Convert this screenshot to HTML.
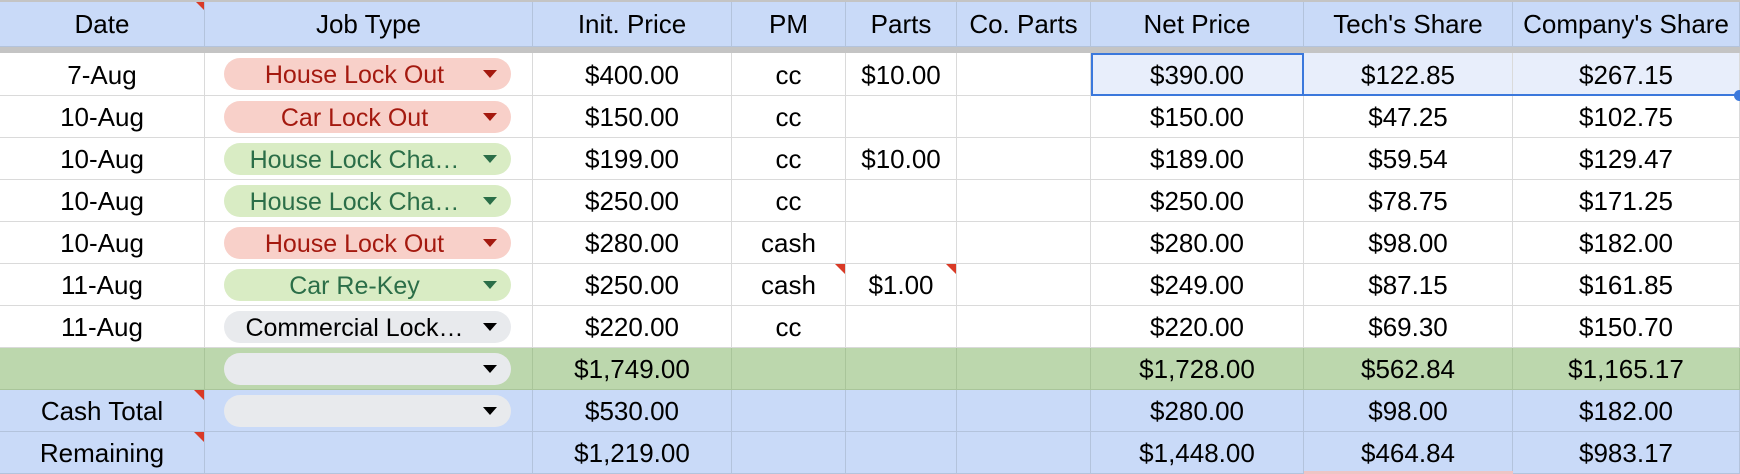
<!DOCTYPE html>
<html><head><meta charset="utf-8">
<style>
html,body{margin:0;padding:0;}
body{width:1740px;height:474px;overflow:hidden;background:#fff;position:relative;font-family:"Liberation Sans",Arial,sans-serif;}
.c{position:absolute;box-sizing:border-box;display:flex;align-items:center;justify-content:center;font-size:26px;color:#000;border-right:1px solid #dadada;border-bottom:1px solid #dadada;white-space:nowrap;padding-top:2px;}
.h{background:#c9daf8;border-right:1px solid #b3c3dc;border-bottom:1px solid #b3c3dc;}
.g{background:#bcd7ad;border-right:1px solid #a9c59a;border-bottom:1px solid #a9c59a;}
.b{background:#c9daf8;border-right:1px solid #b3c3dc;border-bottom:1px solid #b3c3dc;}
.chip{position:absolute;left:19px;right:21px;top:50%;transform:translateY(-50%);height:32px;border-radius:16px;display:flex;align-items:center;justify-content:center;padding-right:32px;padding-left:6px;padding-top:3px;box-sizing:border-box;font-size:25px;}
.chip .arr{position:absolute;right:14px;top:12px;width:0;height:0;border-left:7px solid transparent;border-right:7px solid transparent;border-top:8px solid #000;}
.red{background:#f8d0c9;color:#a4190f;}
.red .arr{border-top-color:#a4190f;}
.grn{background:#d9ecc4;color:#2b6e48;}
.grn .arr{border-top-color:#2b6e48;}
.gry{background:#e8eaed;color:#000;}
.tri{position:absolute;right:0;top:0;width:0;height:0;border-left:10px solid transparent;border-top:10px solid #d93a26;}
</style></head><body>
<div id="sheet"></div>
<script>
const colWidths=[205,328,199,114,111,134,213,209,227];
const headers=["Date","Job Type","Init. Price","PM","Parts","Co. Parts","Net Price","Tech's Share","Company's Share"];
const dates=["7-Aug","10-Aug","10-Aug","10-Aug","10-Aug","11-Aug","11-Aug"];
const jobTypes=["House Lock Out","Car Lock Out","House Lock Cha…","House Lock Cha…","House Lock Out","Car Re-Key","Commercial Lock…"];
const jobColors=["red","red","grn","grn","red","grn","gry"];
const initPrices=["$400.00","$150.00","$199.00","$250.00","$280.00","$250.00","$220.00"];
const pms=["cc","cc","cc","cc","cash","cash","cc"];
const parts=["$10.00","","$10.00","","","$1.00",""];
const netPrices=["$390.00","$150.00","$189.00","$250.00","$280.00","$249.00","$220.00"];
const techShares=["$122.85","$47.25","$59.54","$78.75","$98.00","$87.15","$69.30"];
const coShares=["$267.15","$102.75","$129.47","$171.25","$182.00","$161.85","$150.70"];
const totalRow=["","","$1,749.00","","","","$1,728.00","$562.84","$1,165.17"];
const cashRow=["Cash Total","","$530.00","","","","$280.00","$98.00","$182.00"];
const remRow=["Remaining","","$1,219.00","","","","$1,448.00","$464.84","$983.17"];
const rowHeights=[43,42,42,42,42,42,42,42,42,42];

const sheet=document.getElementById('sheet');
const xs=[0];colWidths.forEach(w=>xs.push(xs[xs.length-1]+w));
const ys=[53];rowHeights.forEach(h=>ys.push(ys[ys.length-1]+h));

function cell(ci,y,h,cls,text){
  const d=document.createElement('div');
  d.className='c '+cls;
  d.style.left=xs[ci]+'px';d.style.top=y+'px';
  d.style.width=colWidths[ci]+'px';d.style.height=h+'px';
  if(text)d.textContent=text;
  sheet.appendChild(d);
  return d;
}
function chip(host,color,text){
  const c=document.createElement('div');
  c.className='chip '+color;
  
  
  const s=document.createElement('span');s.textContent=text;c.appendChild(s);
  const a=document.createElement('div');a.className='arr';c.appendChild(a);
  host.appendChild(c);
}
function tri(host){
  const t=document.createElement('div');t.className='tri';
  
  
  host.appendChild(t);
}
const topBorder=document.createElement('div');
topBorder.style.cssText='position:absolute;left:0;top:0;width:1740px;height:2px;background:#c4c4c4;z-index:2';


sheet.appendChild(topBorder);
headers.forEach((t,i)=>{
  const d=cell(i,0,47,'h',t);
  
  
  if(i===0)tri(d);
});
const freezeBar=document.createElement('div');
freezeBar.style.cssText='position:absolute;left:0;top:47px;width:1740px;height:6px;background:#c4c4c4';


sheet.appendChild(freezeBar);
for(let r=0;r<dates.length;r++){
  const y=ys[r],h=rowHeights[r];
  const vals=[dates[r],"",initPrices[r],pms[r],parts[r],"",netPrices[r],techShares[r],coShares[r]];
  vals.forEach((v,ci)=>{
    const d=cell(ci,y,h,'',v);
    
    
    if(r===0&&ci>=6)d.style.background='#e8eefb';
    if(ci===1)chip(d,jobColors[r],jobTypes[r]);
    if(r===5&&(ci===3||ci===4))tri(d);
  });
}
[[totalRow,'g'],[cashRow,'b'],[remRow,'b']].forEach(([row,cls],k)=>{
  const r=dates.length+k,y=ys[r],h=rowHeights[r];
  row.forEach((v,ci)=>{
    const d=cell(ci,y,h,cls,v);
    
    
    if(ci===1&&k<2)chip(d,'gry','');
    if(ci===0&&k>0)tri(d);
  });
});
const selBox=document.createElement('div');
selBox.style.cssText='position:absolute;box-sizing:border-box;border:2px solid #3b78dc;left:'+xs[6]+'px;top:'+ys[0]+'px;width:'+colWidths[6]+'px;height:'+(rowHeights[0])+'px;z-index:3';


sheet.appendChild(selBox);
const selEdge=document.createElement('div');
selEdge.style.cssText='position:absolute;left:'+xs[7]+'px;top:'+(ys[1]-2)+'px;width:'+(1740-xs[7])+'px;height:2px;background:#3b78dc;z-index:3';


sheet.appendChild(selEdge);
const fillDot=document.createElement('div');
fillDot.style.cssText='position:absolute;left:1734px;top:'+(ys[1]-6)+'px;width:11px;height:11px;border-radius:50%;background:#3b78dc;z-index:4';


sheet.appendChild(fillDot);
const pinkEdge=document.createElement('div');
pinkEdge.style.cssText='position:absolute;left:'+xs[7]+'px;top:471px;width:'+colWidths[7]+'px;height:3px;background:#efc4c4;z-index:2';


sheet.appendChild(pinkEdge);
</script>
</body></html>
